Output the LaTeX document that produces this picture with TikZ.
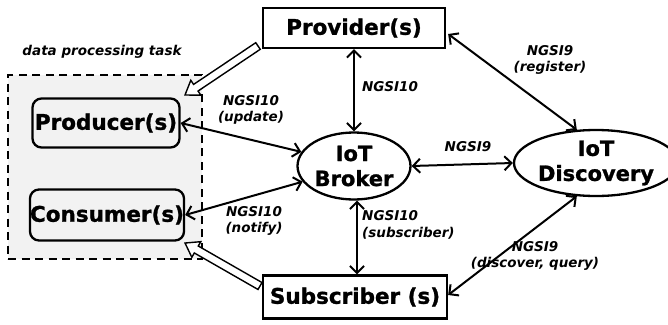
\documentclass[tikz,border=0pt]{standalone}
\usepackage{fontspec}
\setmainfont[BoldFeatures={FakeBold=1.2}]{DejaVu Sans}
\usetikzlibrary{shapes.geometric,arrows.meta,calc}

\tikzset{
  entity/.style={draw, line width=2.3pt, font=\bfseries\fontsize{21.5}{23}\selectfont, inner sep=0pt},
  roundbox/.style={entity, rounded corners=9pt},
  cloud/.style={entity, ellipse, font=\bfseries\fontsize{21}{25}\selectfont},
  link/.style={line width=2pt, {Straight Barb[length=7pt,width=14pt,line width=2pt]}-{Straight Barb[length=7pt,width=14pt,line width=2pt]}},
  tag/.style={font=\bfseries\itshape\fontsize{13.5}{16.5}\selectfont, align=center, inner sep=0pt},
  hollow/.style={draw, fill=white, line width=1.4pt, line join=miter}
}

% hollow block arrow from #1 to #2
\newcommand{\blockarrow}[2]{%
  \path let \p1=($(#2)-(#1)$), \n1={veclen(\x1,\y1)}, \n2={atan2(\y1,\x1)} in
    [hollow, shift={(#1)}, rotate=\n2]
    (0,4) -- (\n1-13,4) -- (\n1-13,9) -- (\n1,0) -- (\n1-13,-9) -- (\n1-13,-4) -- (0,-4) -- cycle;%
}

\begin{document}
\begin{tikzpicture}[x=1pt,y=-1pt]
\useasboundingbox (0,0) rectangle (668,324);

% task frame
\node[draw, dash pattern=on 8pt off 5.5pt, line width=2pt, fill=black!5,
      minimum width=194pt, minimum height=184pt, inner sep=0pt] (task) at (105,167) {};
\node[tag] (tasklabel) at (102,52) {data processing task};

% main entities
\node[entity, minimum width=182pt, minimum height=40pt] (prov) at (354,28) {Provider(s)};
\node[entity, minimum width=184pt, minimum height=43pt] (sub) at (355,297) {Subscriber (s)};
\node[roundbox, minimum width=147pt, minimum height=49pt] (prod) at (106,123) {Producer(s)};
\node[roundbox, minimum width=149pt, minimum height=51pt] (cons) at (107,215) {Consumer(s)};
\node[cloud, minimum width=113pt, minimum height=67pt, align=center] (broker) at (354,166) {IoT\\Broker};
\node[cloud, minimum width=137pt, minimum height=66pt, align=center] (disc) at (596,163) {IoT\\Discovery};

% interaction links
\draw[link] (prov.south) -- (broker.north);
\draw[link] (prov.east) ++(2,6) coordinate (pe) (pe) -- (disc.120);
\draw[link] (prod.east) -- (broker.165);
\draw[link] (cons.east) -- (broker.197);
\draw[link] (broker.east) -- (disc.west);
\draw[link] ([xshift=3pt]broker.south) -- ([xshift=2pt]sub.north);
\draw[link] ([yshift=2pt]sub.east) -- (disc.240);

% labels
\node[tag] (l1) at (251,110) {NGSI10\\(update)};
\node[tag] (l2) at (390,87) {NGSI10};
\node[tag] (l3) at (550,60) {NGSI9\\(register)};
\node[tag] (l4) at (468,147) {NGSI9};
\node[tag] (l5) at (254,221) {NGSI10\\(notify)};
\node[tag, align=left, anchor=west] (l6) at (362,225) {NGSI10\\(subscriber)};
\node[tag] (l7) at (535,256) {NGSI9\\(discover, query)};

% data flow into the task frame
\coordinate (pt) at (258,46);
\coordinate (ph) at (185,95);
\coordinate (st) at (260,286);
\coordinate (sh) at (185,243);
\blockarrow{pt}{ph}
\blockarrow{st}{sh}
\end{tikzpicture}
\end{document}
